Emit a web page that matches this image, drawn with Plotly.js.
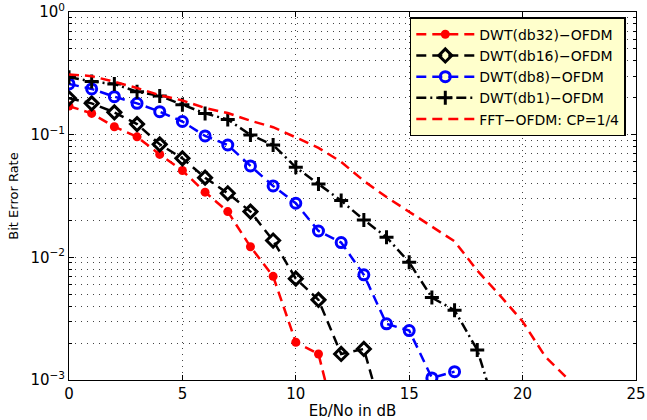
<!DOCTYPE html>
<html>
<head>
<meta charset="utf-8">
<script src="https://cdn.plot.ly/plotly-3.0.1.min.js"></script>
<style>
html,body{margin:0;padding:0;background:#fff;}
#chart{width:647px;height:420px;}
</style>
</head>
<body>
<div id="chart"></div>
<script>
// Eb/No values (dB)
const ebno32 = [0,1,2,3,4,5,6,7,8,9,10,11,12];
const ber32  = [0.171,0.149,0.116,0.096,0.069,0.051,0.034,0.0236,0.0122,0.0070,0.00203,0.00163,0.0003];

const ebno16 = [0,1,2,3,4,5,6,7,8,9,10,11,12,13,14];
const ber16  = [0.198,0.180,0.152,0.122,0.0834,0.0641,0.0446,0.0333,0.0236,0.0137,0.0067,0.0045,0.00163,0.00179,0.0004];

const ebno8 = [0,1,2,3,4,5,6,7,8,9,10,11,12,13,14,15,16,17];
const ber8  = [0.259,0.236,0.204,0.180,0.154,0.128,0.0976,0.0824,0.0556,0.0382,0.0276,0.0164,0.0132,0.0072,0.00287,0.00253,0.00104,0.00117];

const ebno1 = [0,1,2,3,4,5,6,7,8,9,10,11,12,13,14,15,16,17,18,19];
const ber1  = [0.294,0.271,0.259,0.224,0.207,0.175,0.149,0.133,0.0995,0.0824,0.0542,0.0396,0.029,0.0202,0.0146,0.0091,0.0047,0.0037,0.00176,0.00045];

const ebnoFFT = [0,1,2,3,4,5,6,7,8,9,10,11,12,13,14,15,16,17,18,19,20,21,22];
const berFFT  = [0.31,0.30,0.27,0.24,0.21,0.19,0.165,0.15,0.13,0.115,0.095,0.078,0.06,0.042,0.031,0.0236,0.018,0.0135,0.0078,0.0049,0.003,0.00155,0.00102];

const seriesNames = ['DWT(db32)\u2212OFDM','DWT(db16)\u2212OFDM','DWT(db8)\u2212OFDM','DWT(db1)\u2212OFDM','FFT\u2212OFDM: CP=1/4'];

const yTickVals = [1,0.1,0.01,0.001];
const yTickText = ['10<sup>0</sup>','10<sup>\u22121</sup>','10<sup>\u22122</sup>','10<sup>\u22123</sup>'];
const xTickVals = [0,5,10,15,20,25];

const traces = [
  {x: ebno32, y: ber32, name: seriesNames[0], mode: 'lines+markers',
   line: {color: '#ff0000', width: 2.5, dash: '10px,6px'},
   marker: {symbol: 'circle', size: 9, color: '#ff0000'}},
  {x: ebno16, y: ber16, name: seriesNames[1], mode: 'lines+markers',
   line: {color: '#000000', width: 2.5, dash: '10px,6px'},
   marker: {symbol: 'diamond-open', size: 10, color: '#000000', line: {width: 3, color: '#000000'}}},
  {x: ebno8, y: ber8, name: seriesNames[2], mode: 'lines+markers',
   line: {color: '#0000ff', width: 2.5, dash: '10px,6px'},
   marker: {symbol: 'circle-open', size: 10, color: '#0000ff', line: {width: 3, color: '#0000ff'}}},
  {x: ebno1, y: ber1, name: seriesNames[3], mode: 'lines+markers',
   line: {color: '#000000', width: 2.5, dash: '10px,4px,2px,4px'},
   marker: {symbol: 'cross-thin-open', size: 10, color: '#000000', line: {width: 3, color: '#000000'}}},
  {x: ebnoFFT, y: berFFT, name: seriesNames[4], mode: 'lines',
   line: {color: '#ff0000', width: 2.5, dash: '10px,6px'}}
];

const FAM = 'DejaVu Sans, Liberation Sans, Arial, sans-serif';
const gridStyle = {gridcolor: '#444', griddash: '1px,5px', gridwidth: 1};

const layout = {
  width: 647, height: 420,
  margin: {l: 69, r: 11, t: 12, b: 40, pad: 0},
  paper_bgcolor: '#ffffff', plot_bgcolor: '#ffffff',
  font: {family: FAM, size: 15, color: '#000'},
  showlegend: true,
  legend: {x: 0.982, y: 0.986, xanchor: 'right', yanchor: 'top',
    bgcolor: '#ffffcc', bordercolor: '#000', borderwidth: 1.5,
    font: {family: FAM, size: 14, color: '#000'},
    tracegroupgap: 0, itemwidth: 58},
  xaxis: Object.assign({
    range: [0, 25], tickvals: xTickVals, ticktext: xTickVals.map(String),
    showline: true, linecolor: '#000', linewidth: 1, mirror: 'allticks',
    ticks: 'inside', ticklen: 5, tickcolor: '#000',
    showgrid: true, zeroline: false,
    title: {text: 'Eb/No in dB', font: {family: FAM, size: 15}, standoff: 3},
    tickfont: {family: FAM, size: 15}
  }, gridStyle),
  yaxis: Object.assign({
    type: 'log', range: [-3, 0],
    tickvals: yTickVals, ticktext: yTickText,
    showline: true, linecolor: '#000', linewidth: 1, mirror: 'allticks',
    ticks: 'inside', ticklen: 5, tickcolor: '#000',
    showgrid: true, zeroline: false,
    minor: Object.assign({dtick: 'D1', showgrid: true,
            ticks: 'inside', ticklen: 3, tickcolor: '#000'}, gridStyle),
    title: {text: 'Bit Error Rate', font: {family: FAM, size: 13}, standoff: 8},
    tickfont: {family: FAM, size: 15}
  }, gridStyle)
};

Plotly.newPlot('chart', traces, layout, {displayModeBar: false, staticPlot: true});
</script>
</body>
</html>
